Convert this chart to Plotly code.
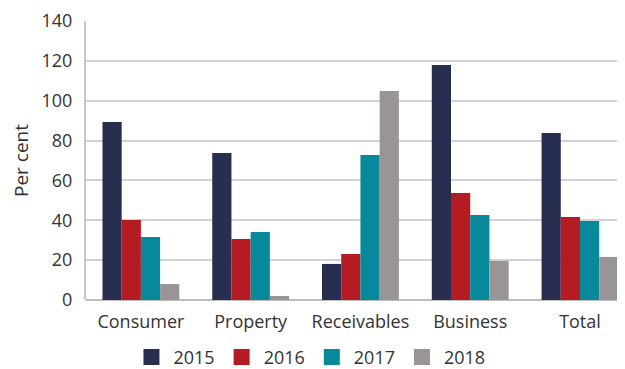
import plotly.graph_objects as go

categories = ["Consumer", "Property", "Receivables", "Business", "Total"]
years = ["2015", "2016", "2017", "2018"]
v2015 = [89.3, 73.8, 18.1, 117.9, 83.8]
v2016 = [40.1, 30.6, 23.1, 53.7, 41.6]
v2017 = [31.6, 34.1, 72.8, 42.6, 39.6]
v2018 = [8.0, 2.0, 104.9, 19.6, 21.6]
colors = ["#282e50", "#b51b22", "#08889b", "#989497"]
y_ticks = [0, 20, 40, 60, 80, 100, 120, 140]

fig = go.Figure()
for name, vals, c in zip(years, [v2015, v2016, v2017, v2018], colors):
    fig.add_trace(go.Bar(x=categories, y=vals, name=name, showlegend=False,
                         marker=dict(color=c, line=dict(width=0))))
# legend entries with larger square swatches
for name, c in zip(years, colors):
    fig.add_trace(go.Scatter(x=[None], y=[None], mode="markers", name=name,
                             marker=dict(symbol="square", size=16, color=c)))

font = "Open Sans"
# page body has an 8px default margin, so the figure is sized/positioned to compensate
fig.update_layout(
    width=617, height=361,
    margin=dict(l=78, r=0, t=13, b=69, autoexpand=False),
    barmode="group", bargap=0.3, bargroupgap=0,
    plot_bgcolor="white", paper_bgcolor="white",
    font=dict(family=font, size=18, color="#333333"),
    showlegend=True,
    legend=dict(orientation="h", x=0.4155, xanchor="center", y=-0.205, yanchor="middle",
                font=dict(size=18), itemwidth=34, traceorder="normal"),
    xaxis=dict(range=[-0.5, 4.41], showgrid=False, showline=False, ticks="",
               tickfont=dict(size=18), ticklabelstandoff=9, automargin=False),
    yaxis=dict(range=[0, 140], tickvals=y_ticks, showgrid=True, gridcolor="#d2d2d2",
               gridwidth=2, showline=True, linecolor="#c8c8c8", linewidth=2,
               zeroline=True, zerolinecolor="#bdbdbd", zerolinewidth=2,
               tickfont=dict(size=18), ticklabelstandoff=8, automargin=False,
               title=dict(text="Per cent", font=dict(size=19), standoff=22)),
)
fig.write_html("out.html")
